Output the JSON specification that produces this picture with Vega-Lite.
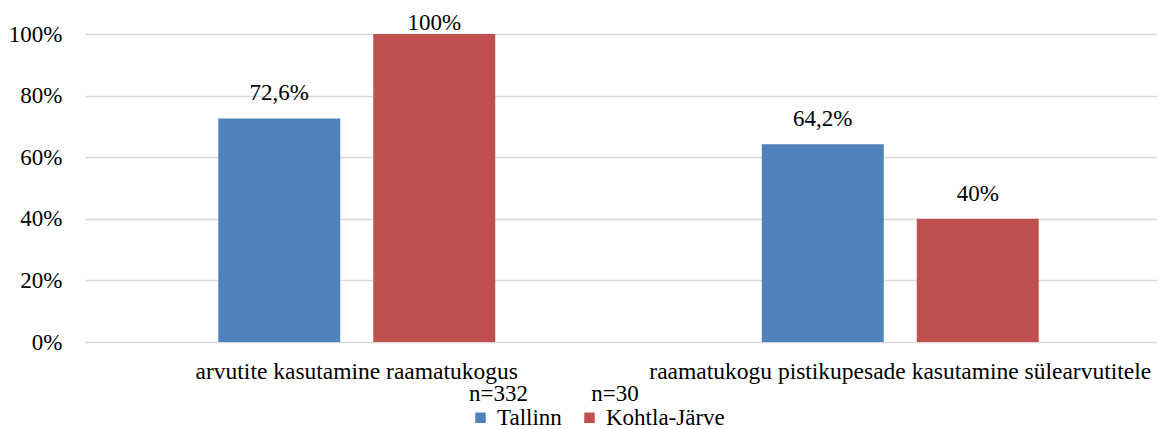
{
  "$schema": "https://vega.github.io/schema/vega-lite/v6.json",
  "width": 1072,
  "height": 308,
  "autosize": {"type": "none"},
  "padding": {"left": 85, "top": 34, "right": 0, "bottom": 87},
  "config": {
    "locale": {"number": {"decimal": ",", "thousands": "\u00a0", "grouping": [3], "currency": ["", "\u00a0€"]}},
    "view": {"stroke": null},
    "font": "'Liberation Serif', 'Times New Roman', serif"
  },
  "data": {
    "values": [
      {"category": "arvutite kasutamine raamatukogus", "city": "Tallinn", "value": 0.726},
      {"category": "arvutite kasutamine raamatukogus", "city": "Kohtla-Järve", "value": 1.0},
      {"category": "raamatukogu pistikupesade kasutamine sülearvutitele", "city": "Tallinn", "value": 0.642},
      {"category": "raamatukogu pistikupesade kasutamine sülearvutitele", "city": "Kohtla-Järve", "value": 0.4}
    ]
  },
  "encoding": {
    "x": {
      "field": "category", "type": "nominal", "sort": null,
      "scale": {"range": [0, 1087], "paddingInner": 0, "paddingOuter": 0},
      "axis": {"title": null, "labelAngle": 0, "ticks": false, "domain": false, "labelFont": "'Liberation Serif', 'Times New Roman', serif", "labelFontSize": 23.5, "labelColor": "#000", "labelPadding": 17, "labelLimit": 0, "grid": false}
    },
    "xOffset": {
      "field": "city", "type": "nominal", "sort": ["Tallinn", "Kohtla-Järve"],
      "scale": {"paddingInner": 0.213, "paddingOuter": 0.86}
    },
    "y": {
      "field": "value", "type": "quantitative",
      "scale": {"domain": [0, 1], "nice": false},
      "axis": {"title": null, "format": ".0%", "values": [0, 0.2, 0.4, 0.6, 0.8, 1], "ticks": false, "domain": false, "labelFont": "'Liberation Serif', 'Times New Roman', serif", "labelFontSize": 23, "labelColor": "#000", "labelPadding": 23, "gridColor": "#d9d9d9", "gridWidth": 1.3}
    }
  },
  "layer": [
    {
      "mark": {"type": "bar"},
      "encoding": {
        "color": {
          "field": "city", "type": "nominal",
          "scale": {"domain": ["Tallinn", "Kohtla-Järve"], "range": ["#4F81BD", "#C0504D"]},
          "legend": {
            "orient": "none", "legendX": 384, "legendY": 349, "direction": "horizontal",
            "title": "\u00a0n=332\u00a0\u00a0\u00a0\u00a0\u00a0\u00a0\u00a0\u00a0\u00a0\u00a0\u00a0n=30",
            "titleFont": "'Liberation Serif', 'Times New Roman', serif", "titleFontSize": 23, "titleFontWeight": "normal", "titleColor": "#000", "titlePadding": 0, "titleLimit": 600,
            "labelFont": "'Liberation Serif', 'Times New Roman', serif", "labelFontSize": 23, "labelColor": "#000", "labelLimit": 400,
            "symbolType": "square", "symbolSize": 110, "symbolStrokeWidth": 0, "symbolOpacity": 1,
            "labelOffset": 5, "columnPadding": 16
          }
        }
      }
    },
    {
      "transform": [{"filter": "datum.value < 1"}],
      "mark": {"type": "text", "font": "'Liberation Serif', 'Times New Roman', serif", "baseline": "alphabetic", "dy": -18, "fontSize": 23, "color": "#000"},
      "encoding": {"text": {"field": "value", "type": "quantitative", "format": ".1~%"}}
    },
    {
      "transform": [{"filter": "datum.value >= 1"}],
      "mark": {"type": "text", "font": "'Liberation Serif', 'Times New Roman', serif", "baseline": "alphabetic", "dy": -4, "fontSize": 23, "color": "#000"},
      "encoding": {"text": {"field": "value", "type": "quantitative", "format": ".1~%"}}
    }
  ]
}
